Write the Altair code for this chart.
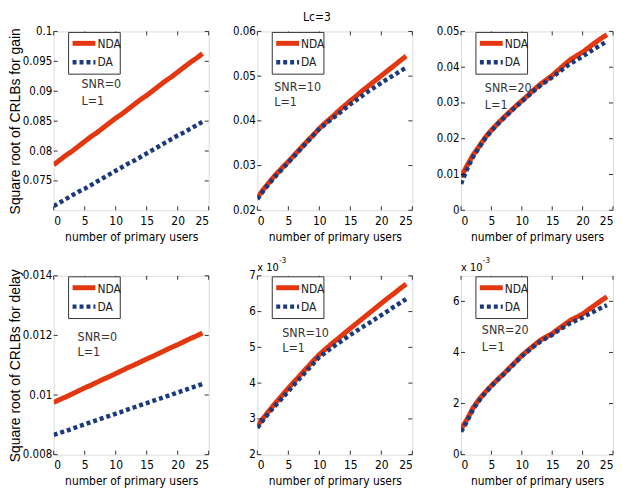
import altair as alt
import pandas as pd

users = list(range(25))

# top row: gain (values), bottom row: delay
gain_nda_snr0 = [0.0777, 0.0785, 0.0793, 0.0800, 0.0808, 0.0816, 0.0824, 0.0831, 0.0839, 0.0847,
                 0.0855, 0.0862, 0.0870, 0.0878, 0.0886, 0.0893, 0.0901, 0.0909, 0.0917, 0.0924,
                 0.0932, 0.0940, 0.0948, 0.0955, 0.0963]
gain_da_snr0 = [0.0708, 0.0714, 0.0720, 0.0726, 0.0732, 0.0737, 0.0743, 0.0749, 0.0755, 0.0761,
                0.0767, 0.0773, 0.0779, 0.0784, 0.0790, 0.0796, 0.0802, 0.0808, 0.0814, 0.0820,
                0.0826, 0.0831, 0.0837, 0.0843, 0.0849]
gain_nda_snr10 = [0.0228, 0.0247, 0.0264, 0.0280, 0.0295, 0.0309, 0.0324, 0.0339, 0.0354, 0.0368,
                  0.0383, 0.0396, 0.0408, 0.0421, 0.0433, 0.0445, 0.0456, 0.0468, 0.0479, 0.0490,
                  0.0501, 0.0512, 0.0523, 0.0534, 0.0545]
gain_da_snr10 = [0.0225, 0.0244, 0.0261, 0.0277, 0.0292, 0.0307, 0.0322, 0.0337, 0.0352, 0.0367,
                 0.0382, 0.0393, 0.0404, 0.0415, 0.0426, 0.0437, 0.0447, 0.0457, 0.0467, 0.0476,
                 0.0485, 0.0494, 0.0502, 0.0511, 0.0519]
gain_nda_snr20 = [0.0093, 0.0125, 0.0155, 0.0179, 0.0204, 0.0224, 0.0242, 0.0259, 0.0275, 0.0291,
                  0.0306, 0.0321, 0.0337, 0.0352, 0.0364, 0.0377, 0.0392, 0.0407, 0.0421, 0.0432,
                  0.0442, 0.0455, 0.0468, 0.0480, 0.0491]
gain_da_snr20 = [0.0074, 0.0115, 0.0150, 0.0176, 0.0201, 0.0222, 0.0240, 0.0257, 0.0273, 0.0289,
                 0.0304, 0.0319, 0.0334, 0.0348, 0.0360, 0.0372, 0.0385, 0.0398, 0.0410, 0.0420,
                 0.0430, 0.0441, 0.0452, 0.0462, 0.0472]
delay_nda_snr0 = [0.00975, 0.00985, 0.00994, 0.01004, 0.01014, 0.01024, 0.01033, 0.01043, 0.01053, 0.01062,
                  0.01072, 0.01082, 0.01092, 0.01101, 0.01111, 0.01121, 0.01130, 0.01140, 0.01150, 0.01160,
                  0.01169, 0.01179, 0.01189, 0.01198, 0.01208]
delay_da_snr0 = [0.00866, 0.00873, 0.00880, 0.00887, 0.00895, 0.00902, 0.00909, 0.00916, 0.00923, 0.00930,
                 0.00937, 0.00944, 0.00952, 0.00959, 0.00966, 0.00973, 0.00980, 0.00987, 0.00994, 0.01001,
                 0.01009, 0.01016, 0.01023, 0.01030, 0.01037]
# in units of 1e-3
delay_nda_snr10 = [2.80, 3.03, 3.25, 3.46, 3.66, 3.86, 4.05, 4.24, 4.43, 4.62,
                   4.80, 4.95, 5.10, 5.24, 5.39, 5.53, 5.67, 5.81, 5.95, 6.09,
                   6.23, 6.37, 6.50, 6.64, 6.77]
delay_da_snr10 = [2.75, 2.98, 3.20, 3.39, 3.58, 3.77, 3.97, 4.16, 4.35, 4.54,
                  4.73, 4.86, 4.99, 5.11, 5.23, 5.35, 5.46, 5.57, 5.68, 5.79,
                  5.90, 6.01, 6.13, 6.24, 6.35]
delay_nda_snr20 = [1.00, 1.38, 1.84, 2.17, 2.45, 2.70, 2.94, 3.16, 3.40, 3.64,
                   3.88, 4.08, 4.28, 4.47, 4.61, 4.74, 4.92, 5.09, 5.26, 5.38,
                   5.50, 5.68, 5.85, 6.02, 6.18]
delay_da_snr20 = [0.90, 1.30, 1.78, 2.12, 2.42, 2.68, 2.92, 3.14, 3.38, 3.62,
                  3.85, 4.05, 4.24, 4.42, 4.56, 4.69, 4.86, 5.01, 5.15, 5.26,
                  5.37, 5.50, 5.62, 5.74, 5.85]

x_ticks = [0, 5, 10, 15, 20, 25]
series_names = ["NDA", "DA"]

RED = "#e3380f"
BLUE = "#1b3a7e"
NARROW = "Liberation Sans Narrow, DejaVu Sans Condensed, Liberation Sans"
WIDE = "Liberation Sans, Arial"
TXT = "#222222"
DASH_DA = [4, 3]


def text_layer(label, px, py, fs, color, align="left"):
    return alt.Chart(pd.DataFrame({"lab": [label]})).mark_text(
        align=align, baseline="middle", font=NARROW, fontSize=fs, color=color).encode(
        text="lab:N", x=alt.value(px), y=alt.value(py))


def legend_layers():
    # boxed legend in the upper-left corner of each panel (MATLAB style)
    one = pd.DataFrame({"k": [0]})
    box = alt.Chart(one).mark_rect(fill="white", stroke="#333333", strokeWidth=1).encode(
        x=alt.value(15), x2=alt.value(67), y=alt.value(1), y2=alt.value(43))
    nda_s = alt.Chart(one).mark_rule(color=RED, strokeWidth=5).encode(
        x=alt.value(19), x2=alt.value(42), y=alt.value(12))
    da_s = alt.Chart(one).mark_rule(color=BLUE, strokeWidth=4.5, strokeDash=DASH_DA).encode(
        x=alt.value(19), x2=alt.value(42), y=alt.value(31))
    return [box, nda_s, da_s,
            text_layer(series_names[0], 44, 13, 12, TXT),
            text_layer(series_names[1], 44, 31, 12, TXT)]


def panel(nda, da, domain, yticks, fmt, ytitle, snr, W, H, extra_texts=()):
    df = pd.DataFrame({
        "users": users * 2,
        "value": nda + da,
        "series": ["NDA"] * len(nda) + ["DA"] * len(da),
    })
    yaxis_kw = dict(values=yticks, format=fmt, ticks=False, domain=False, grid=False,
                    labelFont=NARROW, labelFontSize=11.5, labelColor="black", labelPadding=2)
    if ytitle:
        yaxis_kw.update(title=ytitle, titleFont=WIDE, titleFontSize=14, titleFontWeight="normal",
                        titleColor="black", titleX=-31, titleBaseline="bottom")
    else:
        yaxis_kw.update(title=None)
    x = alt.X("users:Q", scale=alt.Scale(domain=[0, 25], nice=False),
              axis=alt.Axis(values=x_ticks, title="number of primary users", ticks=False, domain=False,
                            grid=False, labelFont=NARROW, labelFontSize=12, labelColor="black",
                            labelPadding=5, titleFont=NARROW, titleFontSize=12,
                            titleFontWeight="normal", titleColor="black", titlePadding=5))
    y = alt.Y("value:Q", scale=alt.Scale(domain=domain, nice=False, zero=False), axis=alt.Axis(**yaxis_kw))
    color = alt.Color("series:N", scale=alt.Scale(domain=series_names, range=[RED, BLUE]), legend=None)
    dash = alt.StrokeDash("series:N", scale=alt.Scale(domain=series_names, range=[[1, 0], DASH_DA]), legend=None)
    base = alt.Chart(df).encode(x=x, y=y, color=color, strokeDash=dash)
    nda_line = base.transform_filter(alt.datum.series == "NDA").mark_line(strokeWidth=5, clip=True)
    da_line = base.transform_filter(alt.datum.series == "DA").mark_line(strokeWidth=4.5, clip=True)

    # inward (MATLAB-style) tick marks on all four sides, placed through the same scales
    ty = pd.DataFrame({"value": yticks})
    tx = pd.DataFrame({"users": x_ticks})
    rule = dict(color="black", strokeWidth=0.8)
    tick_l = alt.Chart(ty).mark_rule(**rule).encode(y=y, x=alt.value(0), x2=alt.value(4))
    tick_r = alt.Chart(ty).mark_rule(**rule).encode(y=y, x=alt.value(W - 4), x2=alt.value(W))
    tick_b = alt.Chart(tx).mark_rule(**rule).encode(x=x, y=alt.value(H - 4), y2=alt.value(H))
    tick_t = alt.Chart(tx).mark_rule(**rule).encode(x=x, y=alt.value(0), y2=alt.value(4))

    layers = [nda_line, da_line, tick_l, tick_r, tick_b, tick_t] + legend_layers()
    snr_lbl, snr_pos, l_pos = snr
    layers.append(text_layer(snr_lbl, snr_pos[0], snr_pos[1], 12.5, "#333333"))
    layers.append(text_layer("L=1", l_pos[0], l_pos[1], 12.5, "#333333"))
    for txt, px, py, fs in extra_texts:
        layers.append(text_layer(txt, px, py, fs, "black"))
    return alt.layer(*layers).properties(width=W, height=H)


H = 180
p1 = panel(gain_nda_snr0, gain_da_snr0, [0.0701, 0.1], [0.075, 0.08, 0.085, 0.09, 0.095, 0.1], ".3~f",
           "Square root of CRLBs for gain", ("SNR=0", (28, 53), (28, 70)), 156, H)
p2 = panel(gain_nda_snr10, gain_da_snr10, [0.02, 0.06], [0.02, 0.03, 0.04, 0.05, 0.06], ".2~f",
           "", ("SNR=10", (17, 56), (17, 71)), 156, H, extra_texts=[("Lc=3", 46, -15, 12)])
p3 = panel(gain_nda_snr20, gain_da_snr20, [0.0, 0.05], [0, 0.01, 0.02, 0.03, 0.04, 0.05], ".2~f",
           "", ("SNR=20", (24, 57), (24, 74)), 153, H)
p4 = panel(delay_nda_snr0, delay_da_snr0, [0.008, 0.014], [0.008, 0.01, 0.012, 0.014], ".3~f",
           "Square root of CRLBs for delay", ("SNR=0", (24, 62), (24, 77)), 156, H)
p5 = panel(delay_nda_snr10, delay_da_snr10, [2, 7], [2, 3, 4, 5, 6, 7], "d",
           "", ("SNR=10", (25, 58), (25, 73)), 156, H,
           extra_texts=[("x 10", 0, -8, 11), ("-3", 22, -15, 8)])
p6 = panel(delay_nda_snr20, delay_da_snr20, [0, 7], [0, 2, 4, 6], "d",
           "", ("SNR=20", (21, 55), (21, 72)), 153, H,
           extra_texts=[("x 10", 0, -8, 11), ("-3", 22, -15, 8)])

chart = alt.concat(p1, p2, p3, p4, p5, p6, columns=3, spacing={"row": 66, "column": 49},
                   bounds="flush", padding=0).resolve_scale(
    x="independent", y="independent", color="independent", strokeDash="independent"
).configure_view(
    stroke="black", strokeWidth=1
).configure(background="white")

chart.save("out.html", embed_options={"renderer": "svg", "actions": False})
